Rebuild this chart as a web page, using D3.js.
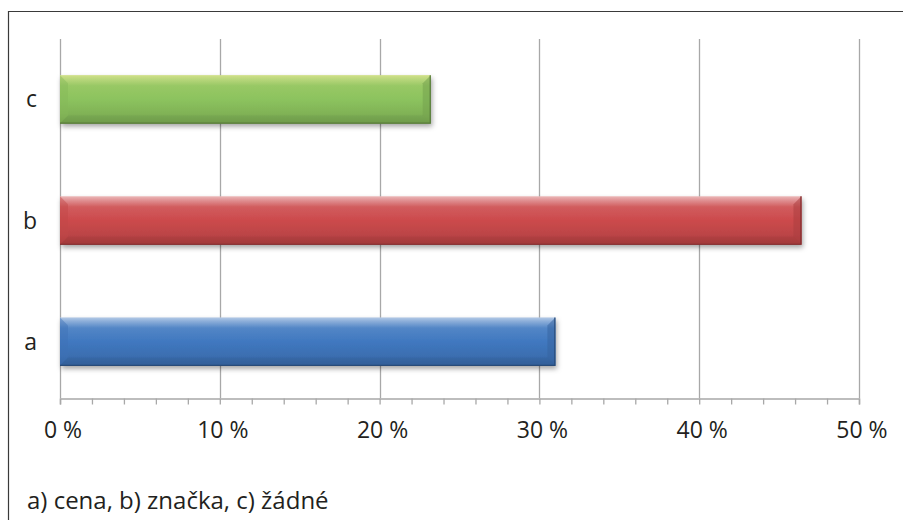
<!DOCTYPE html>
<html>
<head>
<meta charset="utf-8">
<script src="https://cdn.jsdelivr.net/npm/d3@7"></script>
<style>
html,body{margin:0;padding:0;background:#fff;}
svg{display:block;}
text{font-family:"Open Sans","Noto Sans",sans-serif;fill:#231f20;}
</style>
</head>
<body>
<svg id="chart" width="903" height="520"></svg>
<script>
// ---- data ----
const categories = ["a", "b", "c"];
const values = [31.0, 46.4, 23.2];          // percent
const barColors = ["#4078c0", "#cc4a4c", "#8cc35e"];
const xTicks = [0, 10, 20, 30, 40, 50];
const xTickLabels = ["0 %", "10 %", "20 %", "30 %", "40 %", "50 %"];
const minorTicks = d3.range(0, 51, 2);
const footnote = "a) cena, b) značka, c) žádné";

const svg = d3.select("#chart");
const W = 903, H = 520;
const plot = {left: 60, right: 859, top: 39, bottom: 398};

// outer frame (cut off at right/bottom as in reference)
svg.append("path")
  .attr("d", `M8.5,${H} L8.5,11.5 L${W},11.5`)
  .attr("fill", "none").attr("stroke", "#3a3a3a").attr("stroke-width", 1.2);

const x = d3.scaleLinear().domain([0, 50]).range([plot.left, plot.right]);
const y = d3.scaleBand().domain(["c", "b", "a"]).range([plot.top + 1, plot.bottom + 3])
  .paddingInner(0.6).paddingOuter(0.29);

const defs = svg.append("defs");
const shadow = defs.append("filter").attr("id", "shadow")
  .attr("x", "-5%").attr("y", "-30%").attr("width", "115%").attr("height", "170%");
shadow.append("feDropShadow").attr("dx", 1.5).attr("dy", 3).attr("stdDeviation", 2.5)
  .attr("flood-color", "#000").attr("flood-opacity", 0.35);

// gridlines
const gridColor = "#a8a8a8";
svg.append("g").selectAll("line").data(xTicks).join("line")
  .attr("x1", d => Math.round(x(d)) + 0.5).attr("x2", d => Math.round(x(d)) + 0.5)
  .attr("y1", plot.top).attr("y2", plot.bottom)
  .attr("stroke", gridColor).attr("stroke-width", 1.3);

// x axis (minor ticks every 2 %)
const axisG = svg.append("g").attr("transform", `translate(0,${plot.bottom + 0.5})`);
axisG.call(d3.axisBottom(x).tickValues(minorTicks).tickSize(6).tickFormat(""));
axisG.select(".domain").attr("stroke", gridColor).attr("stroke-width", 1.5);
axisG.selectAll(".tick line").attr("stroke", gridColor).attr("stroke-width", 1.3);

// tick labels
svg.append("g").selectAll("text").data(xTicks).join("text")
  .attr("x", d => x(d) + 3).attr("y", 438)
  .attr("text-anchor", "middle").attr("font-size", 23)
  .text((d, i) => xTickLabels[i]);

// category labels
svg.append("g").selectAll("text").data(categories).join("text")
  .attr("x", 37).attr("y", d => y(d) + y.bandwidth() / 2 + 8)
  .attr("text-anchor", "end").attr("font-size", 23)
  .text(d => d);

// gradients per bar
categories.forEach((c, i) => {
  const base = d3.color(barColors[i]);
  const g = defs.append("linearGradient").attr("id", "grad" + i)
    .attr("x1", 0).attr("x2", 0).attr("y1", 0).attr("y2", 1);
  const hl = d3.interpolateRgb(base, i === 2 ? "#fff4a8" : "#ffffff");
  g.append("stop").attr("offset", 0).attr("stop-color", hl(0.6));
  g.append("stop").attr("offset", 0.08).attr("stop-color", hl(0.4));
  g.append("stop").attr("offset", 0.22).attr("stop-color", hl(0.1));
  g.append("stop").attr("offset", 0.5).attr("stop-color", base.formatHex());
  g.append("stop").attr("offset", 0.8).attr("stop-color", base.darker(0.25).formatHex());
  g.append("stop").attr("offset", 1).attr("stop-color", base.darker(0.7).formatHex());
});

// bars
const bev = 8;
const bars = svg.append("g").selectAll("g").data(categories).join("g")
  .attr("transform", d => `translate(${x(0)},${y(d)})`);

bars.each(function(d, i) {
  const gEl = d3.select(this);
  const w = x(values[i]) - x(0);
  const h = y.bandwidth();
  const base = d3.color(barColors[i]);
  gEl.append("rect").attr("width", w).attr("height", h)
    .attr("fill", `url(#grad${i})`).attr("filter", "url(#shadow)");
  // bevels
  gEl.append("polygon")
    .attr("points", `0,0 ${bev},${bev} ${bev},${h - bev} 0,${h}`)
    .attr("fill", base.darker(0.15).formatHex()).attr("opacity", 0.45);
  gEl.append("polygon")
    .attr("points", `${w},0 ${w - bev},${bev} ${w - bev},${h - bev} ${w},${h}`)
    .attr("fill", base.darker(0.5).formatHex()).attr("opacity", 0.55);
  gEl.append("polygon")
    .attr("points", `0,${h} ${bev},${h - bev} ${w - bev},${h - bev} ${w},${h}`)
    .attr("fill", base.darker(0.6).formatHex()).attr("opacity", 0.35);
  // dark edge lines right & bottom
  gEl.append("path")
    .attr("d", `M0,${h - 0.5} L${w - 0.5},${h - 0.5} L${w - 0.5},0`)
    .attr("fill", "none").attr("stroke", base.darker(1.3).formatHex()).attr("stroke-width", 1.2);
});

// footnote
svg.append("text").attr("x", 27).attr("y", 509).attr("font-size", 24).text(footnote);
</script>
</body>
</html>
